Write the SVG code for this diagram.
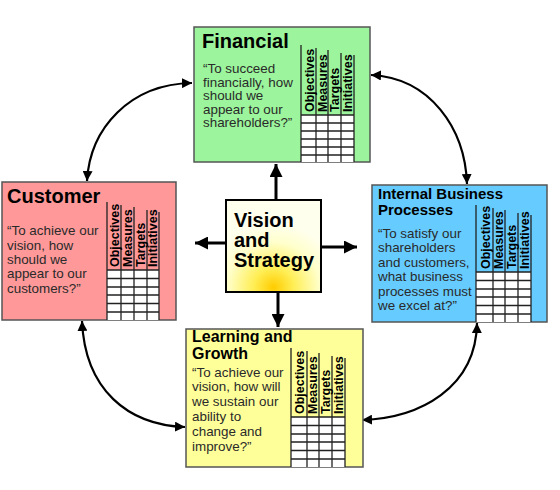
<svg xmlns="http://www.w3.org/2000/svg" width="560" height="490" viewBox="0 0 560 490">
<defs>
<style>
.box{stroke:#555;stroke-width:1.5}
.title{font-family:"Liberation Sans",Arial,sans-serif;font-weight:bold;fill:#000}
.body{font-family:"Liberation Sans",Arial,sans-serif;font-size:13.4px;fill:#2a2a2a}
.col{font-family:"Liberation Sans",Arial,sans-serif;font-weight:bold;font-size:12.5px;fill:#000}
.grid{fill:#fff;stroke:none}
.gl{stroke:#222;stroke-width:1.3;fill:none}
.big{stroke:#000;stroke-width:3;fill:none}
.arc{stroke:#000;stroke-width:2.2;fill:none}
</style>
<marker id="ah" viewBox="0 0 12 12" refX="12" refY="6" markerWidth="13" markerHeight="13" markerUnits="userSpaceOnUse" orient="auto-start-reverse"><path d="M0,0 L12,6 L0,12 z" fill="#000"/></marker>
<marker id="as" viewBox="0 0 10 10" refX="10" refY="5" markerWidth="10" markerHeight="10" markerUnits="userSpaceOnUse" orient="auto-start-reverse"><path d="M0,0 L10,5 L0,10 z" fill="#000"/></marker>
<radialGradient id="glow" cx="0.5" cy="0.95" r="0.7" fx="0.5" fy="0.95">
<stop offset="0" stop-color="#ffcc00"/>
<stop offset="0.3" stop-color="#ffee55"/>
<stop offset="0.7" stop-color="#ffffcc"/>
<stop offset="1" stop-color="#ffffee"/>
</radialGradient>
</defs>
<rect width="560" height="490" fill="#fff"/>

<g id="connectors">
<path class="arc" d="M192,83 C130,84 90,128 87,181" marker-start="url(#as)" marker-end="url(#as)"/>
<path class="arc" d="M371,75 C430,78 465,128 467,184" marker-start="url(#as)" marker-end="url(#as)"/>
<path class="arc" d="M82,321 C85,390 128,425 185,427" marker-start="url(#as)" marker-end="url(#as)"/>
<path class="arc" d="M477,323 C476,388 420,418 362,420" marker-start="url(#as)" marker-end="url(#as)"/>
<line class="big" x1="276" y1="200" x2="276" y2="164" marker-end="url(#ah)"/>
<line class="big" x1="226" y1="243" x2="195" y2="243" marker-end="url(#ah)"/>
<line class="big" x1="321" y1="247" x2="357" y2="247" marker-end="url(#ah)"/>
<line class="big" x1="278" y1="292" x2="278" y2="327" marker-end="url(#ah)"/>
</g>

<g id="financial">
<rect class="box" x="194" y="27" width="176" height="135" fill="#9cf59c"/>
<text class="title" x="202" y="48" font-size="20">Financial</text>
<text class="body" x="203" y="73">“To succeed</text>
<text class="body" x="203" y="86.5">financially, how</text>
<text class="body" x="203" y="100">should we</text>
<text class="body" x="203" y="113.5">appear to our</text>
<text class="body" x="203" y="127">shareholders?”</text>
<rect class="grid" x="301" y="115" width="53" height="47"/>
<path class="gl" d="M301,45V162M316,48V162M328,50V162M341,53V162M354,55V162M301,115H354M301,123H354M301,131H354M301,139H354M301,147H354M301,155H354"/>
<text class="col" transform="translate(313.5,112) rotate(-90)">Objectives</text>
<text class="col" transform="translate(326.5,112) rotate(-90)">Measures</text>
<text class="col" transform="translate(339,112) rotate(-90)">Targets</text>
<text class="col" transform="translate(352,112) rotate(-90)">Initiatives</text>
</g>

<g id="customer">
<rect class="box" x="2" y="182" width="174" height="138" fill="#ff9999"/>
<text class="title" x="7" y="203" font-size="20">Customer</text>
<text class="body" x="7" y="235">“To achieve our</text>
<text class="body" x="7" y="250">vision, how</text>
<text class="body" x="7" y="264">should we</text>
<text class="body" x="7" y="278">appear to our</text>
<text class="body" x="7" y="293">customers?”</text>
<rect class="grid" x="107" y="270" width="52" height="50"/>
<path class="gl" d="M107,202V320M121,205V320M134,207V320M147,210V320M159,212V320M107,270H159M107,278.5H159M107,287H159M107,295H159M107,303.5H159M107,312H159"/>
<text class="col" transform="translate(119,267) rotate(-90)">Objectives</text>
<text class="col" transform="translate(131.5,267) rotate(-90)">Measures</text>
<text class="col" transform="translate(144.5,267) rotate(-90)">Targets</text>
<text class="col" transform="translate(157,267) rotate(-90)">Initiatives</text>
</g>

<g id="internal">
<rect class="box" x="372" y="185" width="175" height="137" fill="#66ccff"/>
<text class="title" x="378" y="198.5" font-size="15">Internal Business</text>
<text class="title" x="378" y="215" font-size="15">Processes</text>
<text class="body" x="378" y="238">“To satisfy our</text>
<text class="body" x="378" y="252">shareholders</text>
<text class="body" x="378" y="267">and customers,</text>
<text class="body" x="378" y="281">what business</text>
<text class="body" x="378" y="296">processes must</text>
<text class="body" x="378" y="310">we excel at?”</text>
<rect class="grid" x="476" y="272" width="55" height="50"/>
<path class="gl" d="M476,205V322M493,208V322M505,210V322M518,213V322M531,215V322M476,272H531M476,280.5H531M476,289H531M476,297H531M476,305.5H531M476,314H531"/>
<text class="col" transform="translate(489.5,269) rotate(-90)">Objectives</text>
<text class="col" transform="translate(503,269) rotate(-90)">Measures</text>
<text class="col" transform="translate(515.5,269) rotate(-90)">Targets</text>
<text class="col" transform="translate(528.5,269) rotate(-90)">Initiatives</text>
</g>

<g id="learning">
<rect class="box" x="186" y="329" width="177" height="138" fill="#ffff99"/>
<text class="title" x="192" y="342" font-size="16">Learning and</text>
<text class="title" x="192" y="359" font-size="16">Growth</text>
<text class="body" x="192" y="377">“To achieve our</text>
<text class="body" x="192" y="391">vision, how will</text>
<text class="body" x="192" y="406">we sustain our</text>
<text class="body" x="192" y="421">ability to</text>
<text class="body" x="192" y="436">change and</text>
<text class="body" x="192" y="451">improve?”</text>
<rect class="grid" x="291" y="417" width="54" height="50"/>
<path class="gl" d="M291,348V467M307,351V467M319,353V467M332,356V467M345,358V467M291,417H345M291,425.5H345M291,434H345M291,442H345M291,450.5H345M291,459H345"/>
<text class="col" transform="translate(304,414) rotate(-90)">Objectives</text>
<text class="col" transform="translate(317,414) rotate(-90)">Measures</text>
<text class="col" transform="translate(329.5,414) rotate(-90)">Targets</text>
<text class="col" transform="translate(342.5,414) rotate(-90)">Initiatives</text>
</g>

<g id="vision">
<rect x="226" y="200" width="95" height="92" fill="url(#glow)" stroke="#000" stroke-width="2"/>
<text class="title" x="234" y="227" font-size="20">Vision</text>
<text class="title" x="234" y="247" font-size="20">and</text>
<text class="title" x="234" y="267" font-size="20">Strategy</text>
</g>
</svg>
